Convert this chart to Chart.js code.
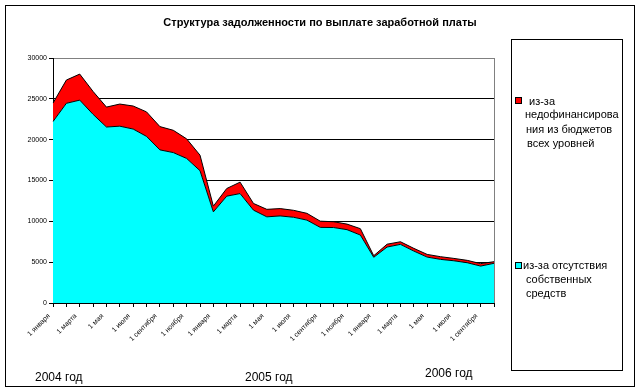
<!DOCTYPE html>
<html lang="ru">
<head>
  <meta charset="UTF-8">
  <title>Структура задолженности по выплате заработной платы</title>
  <script src="https://cdn.jsdelivr.net/npm/chart.js"></script>
  <style>
    body { margin: 0; background: #fff; }
    #wrap { position: relative; width: 641px; height: 392px; font-family: Arial, "Liberation Sans", sans-serif; color: #000; }
    #c { position: absolute; left: 0; top: 0; }
    .abs { position: absolute; white-space: nowrap; }
    .frame { position: absolute; box-sizing: border-box; border: 1px solid #000; }
    .title { left: 5px; width: 630px; top: 16px; text-align: center; font-weight: bold; font-size: 11px; line-height: 13px; }
    .year { font-size: 12px; line-height: 12px; }
    .leg { font-size: 11px; line-height: 14px; }
    .sq { position: absolute; width: 5px; height: 5px; border: 1px solid #000; }
  </style>
</head>
<body>
<div id="wrap">
  <canvas id="c" width="641" height="392"></canvas>
  <div class="frame" style="left:5px; top:5px; width:630px; height:382px;"></div>
  <div class="abs title">Структура задолженности по выплате заработной платы</div>

  <!-- legend box -->
  <div class="frame" style="left:511px; top:39px; width:112px; height:332px;"></div>
  <div class="sq" style="left:515px; top:97px; background:#ff0000;"></div>
  <div class="abs leg" style="left:529px; top:94px;">из-за</div>
  <div class="abs leg" style="left:525px; top:107px;">недофинансирова</div>
  <div class="abs leg" style="left:526px; top:122px;">ния из бюджетов</div>
  <div class="abs leg" style="left:527px; top:136px;">всех уровней</div>
  <div class="sq" style="left:515px; top:262px; background:#00ffff;"></div>
  <div class="abs leg" style="left:523px; top:258px;">из-за отсутствия</div>
  <div class="abs leg" style="left:526px; top:272px;">собственных</div>
  <div class="abs leg" style="left:526px; top:286px;">средств</div>

  <!-- year captions under the axis -->
  <div class="abs year" style="left:35px; top:371px;">2004 год</div>
  <div class="abs year" style="left:245px; top:371px;">2005 год</div>
  <div class="abs year" style="left:425px; top:367px;">2006 год</div>
</div>

<script>
  // Dates: first day of each month, Jan 2004 .. Oct 2006
  const months = [
    '1 января', '1 февраля', '1 марта', '1 апреля', '1 мая', '1 июня',
    '1 июля', '1 августа', '1 сентября', '1 октября', '1 ноября', '1 декабря',
    '1 января', '1 февраля', '1 марта', '1 апреля', '1 мая', '1 июня',
    '1 июля', '1 августа', '1 сентября', '1 октября', '1 ноября', '1 декабря',
    '1 января', '1 февраля', '1 марта', '1 апреля', '1 мая', '1 июня',
    '1 июля', '1 августа', '1 сентября', '1 октября'
  ];

  // debt due to lack of own funds (bottom, cyan)
  const ownFunds = [
    22220, 24450, 24840, 23100, 21550, 21650, 21300, 20400, 18750, 18420, 17700, 16200,
    11160, 13080, 13400, 11370, 10550, 10660, 10500, 10150, 9260, 9240, 8980, 8320,
    5600, 6850, 7180, 6360, 5620, 5340, 5170, 4930, 4520, 4860
  ];

  // debt due to underfunding from budgets of all levels (top, red)
  const underfunding = [
    2260, 2850, 3190, 2800, 2440, 2710, 2820, 3000, 2850, 2730, 2400, 1900,
    700, 940, 1400, 820, 920, 900, 850, 830, 760, 710, 680, 780,
    190, 350, 320, 330, 330, 330, 290, 290, 300, 200
  ];

  const yTicks = { min: 0, max: 30000, step: 5000 };

  // gray border on the right side of the plot area
  const plotBorder = {
    id: 'plotBorder',
    afterDraw(chart) {
      const a = chart.chartArea;
      const ctx = chart.ctx;
      ctx.save();
      ctx.strokeStyle = '#808080';
      ctx.lineWidth = 1;
      ctx.beginPath();
      ctx.moveTo(Math.round(a.right) + 0.5, a.top);
      ctx.lineTo(Math.round(a.right) + 0.5, a.bottom);
      ctx.stroke();
      ctx.restore();
    }
  };

  new Chart(document.getElementById('c'), {
    type: 'line',
    data: {
      labels: months,
      datasets: [
        {
          label: 'из-за отсутствия собственных средств',
          data: ownFunds,
          backgroundColor: '#00ffff',
          borderColor: '#000',
          borderWidth: 1,
          fill: 'origin',
          pointRadius: 0,
          tension: 0
        },
        {
          label: 'из-за недофинансирования из бюджетов всех уровней',
          data: underfunding,
          backgroundColor: '#ff0000',
          borderColor: '#000',
          borderWidth: 1,
          fill: '-1',
          pointRadius: 0,
          tension: 0
        }
      ]
    },
    options: {
      responsive: false,
      animation: false,
      layout: { padding: { left: 0, top: 58, right: 147, bottom: 0 } },
      plugins: {
        legend: { display: false },
        title: { display: false },
        tooltip: { enabled: false }
      },
      scales: {
        x: {
          offset: false,
          afterFit: s => { s.height = 89; },
          border: { color: '#000' },
          grid: { drawOnChartArea: false, drawTicks: true, tickLength: 4, color: '#000' },
          ticks: {
            autoSkip: false,
            minRotation: 45,
            maxRotation: 45,
            padding: 5,
            labelOffset: -4,
            color: '#000',
            font: { family: 'Arial, "Liberation Sans"', size: 7 },
            callback: function(val, i) { return i % 2 === 0 ? this.getLabelForValue(val) : ''; }
          }
        },
        y: {
          stacked: true,
          min: yTicks.min,
          max: yTicks.max,
          afterFit: s => { s.width = 53; },
          border: { color: '#000' },
          grid: {
            color: c => (c.tick && c.tick.value === yTicks.max) ? '#808080' : '#000',
            tickColor: '#000',
            tickLength: 4
          },
          ticks: {
            stepSize: yTicks.step,
            padding: 2,
            color: '#000',
            font: { family: 'Arial, "Liberation Sans"', size: 7 },
            callback: v => String(v)
          }
        }
      }
    },
    plugins: [plotBorder]
  });
</script>
</body>
</html>
